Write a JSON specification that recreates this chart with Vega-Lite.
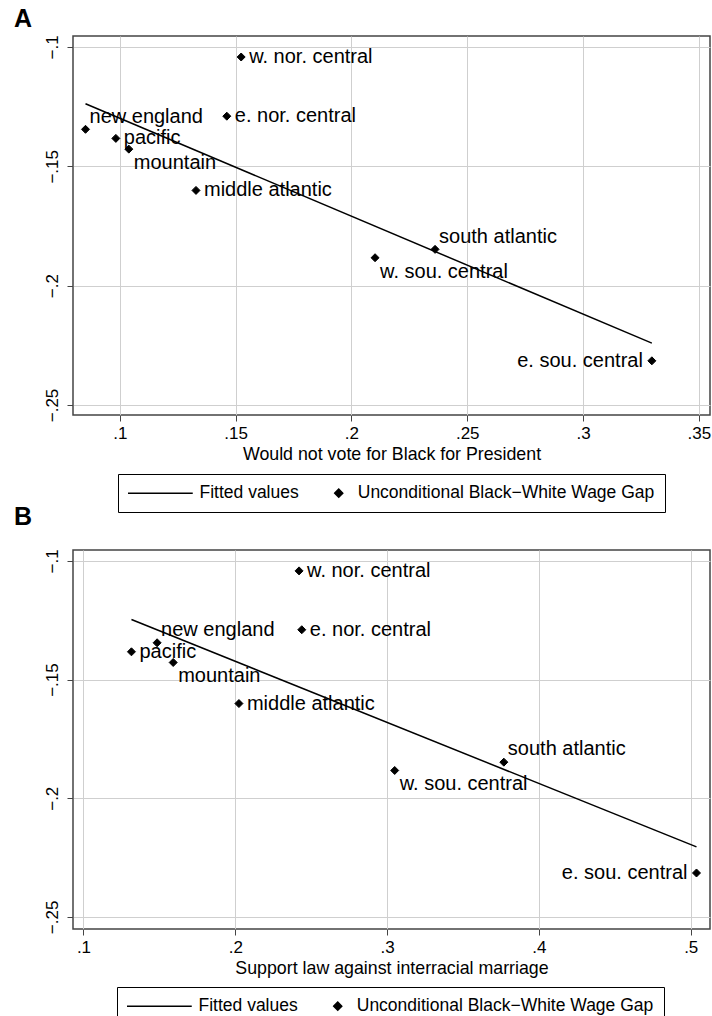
{
  "$schema": "https://vega.github.io/schema/vega-lite/v6.json",
  "padding": {"left": 13, "top": 6, "right": 0, "bottom": 0},
  "background": "white",
  "config": {
    "font": "Liberation Sans",
    "view": {"stroke": "#444444", "strokeWidth": 1.5},
    "axis": {
      "grid": true, "gridColor": "#cfcfcf", "gridWidth": 1,
      "domain": false, "tickColor": "#444444", "tickSize": 6, "tickWidth": 1,
      "labelFont": "Liberation Sans", "labelFontSize": 17, "labelColor": "black",
      "labelFlush": false, "labelOverlap": false, "labelBound": false,
      "titleFont": "Liberation Sans", "titleFontSize": 17.8, "titleFontWeight": "normal", "titleColor": "black",
      "labelExpr": "replace(format(datum.value, '.2~f'), '0.', '.')"
    },
    "axisX": {"labelPadding": 4, "titlePadding": 4},
    "axisY": {"labelAngle": 270, "labelAlign": "center", "labelBaseline": "alphabetic", "labelPadding": 10}
  },
  "datasets": {
    "regions": [
      {"region": "new england", "vote_black": 0.0852, "interracial": 0.1485, "gap": -0.1345},
      {"region": "middle atlantic", "vote_black": 0.1329, "interracial": 0.2024, "gap": -0.1601},
      {"region": "e. nor. central", "vote_black": 0.1462, "interracial": 0.2438, "gap": -0.1290},
      {"region": "w. nor. central", "vote_black": 0.1524, "interracial": 0.2420, "gap": -0.1042},
      {"region": "south atlantic", "vote_black": 0.2361, "interracial": 0.3769, "gap": -0.1848},
      {"region": "e. sou. central", "vote_black": 0.3297, "interracial": 0.5038, "gap": -0.2315},
      {"region": "w. sou. central", "vote_black": 0.2102, "interracial": 0.3050, "gap": -0.1883},
      {"region": "mountain", "vote_black": 0.1039, "interracial": 0.1591, "gap": -0.1428},
      {"region": "pacific", "vote_black": 0.0983, "interracial": 0.1316, "gap": -0.1383}
    ],
    "fitA": [
      {"vote_black": 0.0852, "fitted": -0.1238},
      {"vote_black": 0.3297, "fitted": -0.2241}
    ],
    "fitB": [
      {"interracial": 0.1316, "fitted": -0.1247},
      {"interracial": 0.5038, "fitted": -0.2205}
    ]
  },
  "vconcat": [
    {
      "width": 637, "height": 379,
      "title": {"text": "A", "anchor": "start", "frame": "group", "dx": -59, "offset": -17, "baseline": "alphabetic", "fontSize": 25, "fontWeight": "bold", "font": "Liberation Sans", "color": "black"},
      "layer": [
        {
          "data": {"name": "fitA"},
          "mark": {"type": "line", "color": "black", "strokeWidth": 1.5},
          "encoding": {
            "x": {"field": "vote_black", "type": "quantitative", "scale": {"domain": [0.0798, 0.3548], "nice": false, "zero": false}, "axis": {"values": [0.1, 0.15, 0.2, 0.25, 0.3, 0.35], "title": "Would not vote for Black for President"}},
            "y": {"field": "fitted", "type": "quantitative", "scale": {"domain": [-0.2542, -0.0954], "nice": false, "zero": false}, "axis": {"values": [-0.25, -0.2, -0.15, -0.1], "title": null}}
          }
        },
        {
          "data": {"name": "regions"},
          "mark": {"type": "point", "filled": false, "fill": "black", "stroke": "black", "strokeWidth": 1, "size": 100, "opacity": 1},
          "encoding": {
            "x": {"field": "vote_black", "type": "quantitative", "axis": {"values": [0.1, 0.15, 0.2, 0.25, 0.3, 0.35], "title": "Would not vote for Black for President"}},
            "y": {"field": "gap", "type": "quantitative", "axis": {"values": [-0.25, -0.2, -0.15, -0.1], "title": null}},
            "shape": {
              "datum": "Unconditional Black−White Wage Gap", "type": "nominal",
              "scale": {"domain": ["Fitted values", "Unconditional Black−White Wage Gap"], "range": ["M-1.75,0H11.2", "M-0.8,0L0,-0.8L0.8,0L0,0.8Z"]},
              "legend": {
                "title": null, "orient": "none", "legendX": 45, "legendY": 438, "direction": "horizontal", "columns": 2,
                "symbolSize": 100, "symbolStrokeWidth": 1.5, "symbolOpacity": 1,
                "labelFont": "Liberation Sans", "labelFontSize": 17.5, "labelColor": "black", "labelOffset": 10.25, "labelLimit": 0, "columnPadding": 31,
                "labelExpr": "datum.label === 'Fitted values' ? '\u200b\u00a0\u00a0\u00a0\u00a0\u00a0\u00a0\u00a0\u00a0\u00a0Fitted values' : datum.label",
                "padding": 10, "strokeColor": "black", "fillColor": "white"
              }
            }
          }
        },
        {
          "data": {"name": "regions"},
          "transform": [{"filter": {"field": "region", "oneOf": ["w. nor. central", "e. nor. central", "pacific", "middle atlantic"]}}],
          "mark": {"type": "text", "align": "left", "baseline": "middle", "dx": 8, "fontSize": 20, "font": "Liberation Sans", "color": "black"},
          "encoding": {
            "x": {"field": "vote_black", "type": "quantitative"},
            "y": {"field": "gap", "type": "quantitative"},
            "text": {"field": "region"}
          }
        },
        {
          "data": {"name": "regions"},
          "transform": [{"filter": {"field": "region", "oneOf": ["new england", "south atlantic"]}}],
          "mark": {"type": "text", "align": "left", "baseline": "middle", "dx": 4, "dy": -12, "fontSize": 20, "font": "Liberation Sans", "color": "black"},
          "encoding": {
            "x": {"field": "vote_black", "type": "quantitative"},
            "y": {"field": "gap", "type": "quantitative"},
            "text": {"field": "region"}
          }
        },
        {
          "data": {"name": "regions"},
          "transform": [{"filter": {"field": "region", "oneOf": ["mountain", "w. sou. central"]}}],
          "mark": {"type": "text", "align": "left", "baseline": "middle", "dx": 5, "dy": 14, "fontSize": 20, "font": "Liberation Sans", "color": "black"},
          "encoding": {
            "x": {"field": "vote_black", "type": "quantitative"},
            "y": {"field": "gap", "type": "quantitative"},
            "text": {"field": "region"}
          }
        },
        {
          "data": {"name": "regions"},
          "transform": [{"filter": {"field": "region", "oneOf": ["e. sou. central"]}}],
          "mark": {"type": "text", "align": "right", "baseline": "middle", "dx": -9, "fontSize": 20, "font": "Liberation Sans", "color": "black"},
          "encoding": {
            "x": {"field": "vote_black", "type": "quantitative"},
            "y": {"field": "gap", "type": "quantitative"},
            "text": {"field": "region"}
          }
        }
      ]
    },
    {
      "width": 637, "height": 379,
      "title": {"text": "B", "anchor": "start", "frame": "group", "dx": -59, "offset": -1, "baseline": "alphabetic", "fontSize": 25, "fontWeight": "bold", "font": "Liberation Sans", "color": "black"},
      "layer": [
        {
          "data": {"name": "fitB"},
          "mark": {"type": "line", "color": "black", "strokeWidth": 1.5},
          "encoding": {
            "x": {"field": "interracial", "type": "quantitative", "scale": {"domain": [0.0931, 0.5127], "nice": false, "zero": false}, "axis": {"values": [0.1, 0.2, 0.3, 0.4, 0.5], "title": "Support law against interracial marriage"}},
            "y": {"field": "fitted", "type": "quantitative", "scale": {"domain": [-0.2551, -0.0954], "nice": false, "zero": false}, "axis": {"values": [-0.25, -0.2, -0.15, -0.1], "title": null}}
          }
        },
        {
          "data": {"name": "regions"},
          "mark": {"type": "point", "filled": false, "fill": "black", "stroke": "black", "strokeWidth": 1, "size": 100, "opacity": 1},
          "encoding": {
            "x": {"field": "interracial", "type": "quantitative", "axis": {"values": [0.1, 0.2, 0.3, 0.4, 0.5], "title": "Support law against interracial marriage"}},
            "y": {"field": "gap", "type": "quantitative", "axis": {"values": [-0.25, -0.2, -0.15, -0.1], "title": null}},
            "shape": {
              "datum": "Unconditional Black−White Wage Gap", "type": "nominal",
              "scale": {"domain": ["Fitted values", "Unconditional Black−White Wage Gap"], "range": ["M-1.75,0H11.2", "M-0.8,0L0,-0.8L0.8,0L0,0.8Z"]},
              "legend": {
                "title": null, "orient": "none", "legendX": 44, "legendY": 437, "direction": "horizontal", "columns": 2,
                "symbolSize": 100, "symbolStrokeWidth": 1.5, "symbolOpacity": 1,
                "labelFont": "Liberation Sans", "labelFontSize": 17.5, "labelColor": "black", "labelOffset": 10.25, "labelLimit": 0, "columnPadding": 31,
                "labelExpr": "datum.label === 'Fitted values' ? '\u200b\u00a0\u00a0\u00a0\u00a0\u00a0\u00a0\u00a0\u00a0\u00a0Fitted values' : datum.label",
                "padding": 10, "strokeColor": "black", "fillColor": "white"
              }
            }
          }
        },
        {
          "data": {"name": "regions"},
          "transform": [{"filter": {"field": "region", "oneOf": ["w. nor. central", "e. nor. central", "pacific", "middle atlantic"]}}],
          "mark": {"type": "text", "align": "left", "baseline": "middle", "dx": 8, "fontSize": 20, "font": "Liberation Sans", "color": "black"},
          "encoding": {
            "x": {"field": "interracial", "type": "quantitative"},
            "y": {"field": "gap", "type": "quantitative"},
            "text": {"field": "region"}
          }
        },
        {
          "data": {"name": "regions"},
          "transform": [{"filter": {"field": "region", "oneOf": ["new england", "south atlantic"]}}],
          "mark": {"type": "text", "align": "left", "baseline": "middle", "dx": 4, "dy": -13, "fontSize": 20, "font": "Liberation Sans", "color": "black"},
          "encoding": {
            "x": {"field": "interracial", "type": "quantitative"},
            "y": {"field": "gap", "type": "quantitative"},
            "text": {"field": "region"}
          }
        },
        {
          "data": {"name": "regions"},
          "transform": [{"filter": {"field": "region", "oneOf": ["mountain", "w. sou. central"]}}],
          "mark": {"type": "text", "align": "left", "baseline": "middle", "dx": 5, "dy": 14, "fontSize": 20, "font": "Liberation Sans", "color": "black"},
          "encoding": {
            "x": {"field": "interracial", "type": "quantitative"},
            "y": {"field": "gap", "type": "quantitative"},
            "text": {"field": "region"}
          }
        },
        {
          "data": {"name": "regions"},
          "transform": [{"filter": {"field": "region", "oneOf": ["e. sou. central"]}}],
          "mark": {"type": "text", "align": "right", "baseline": "middle", "dx": -9, "fontSize": 20, "font": "Liberation Sans", "color": "black"},
          "encoding": {
            "x": {"field": "interracial", "type": "quantitative"},
            "y": {"field": "gap", "type": "quantitative"},
            "text": {"field": "region"}
          }
        }
      ]
    }
  ],
  "spacing": 135,
  "bounds": "flush",
  "resolve": {
    "scale": {"x": "independent", "y": "independent", "shape": "independent"},
    "legend": {"shape": "independent"}
  }
}
